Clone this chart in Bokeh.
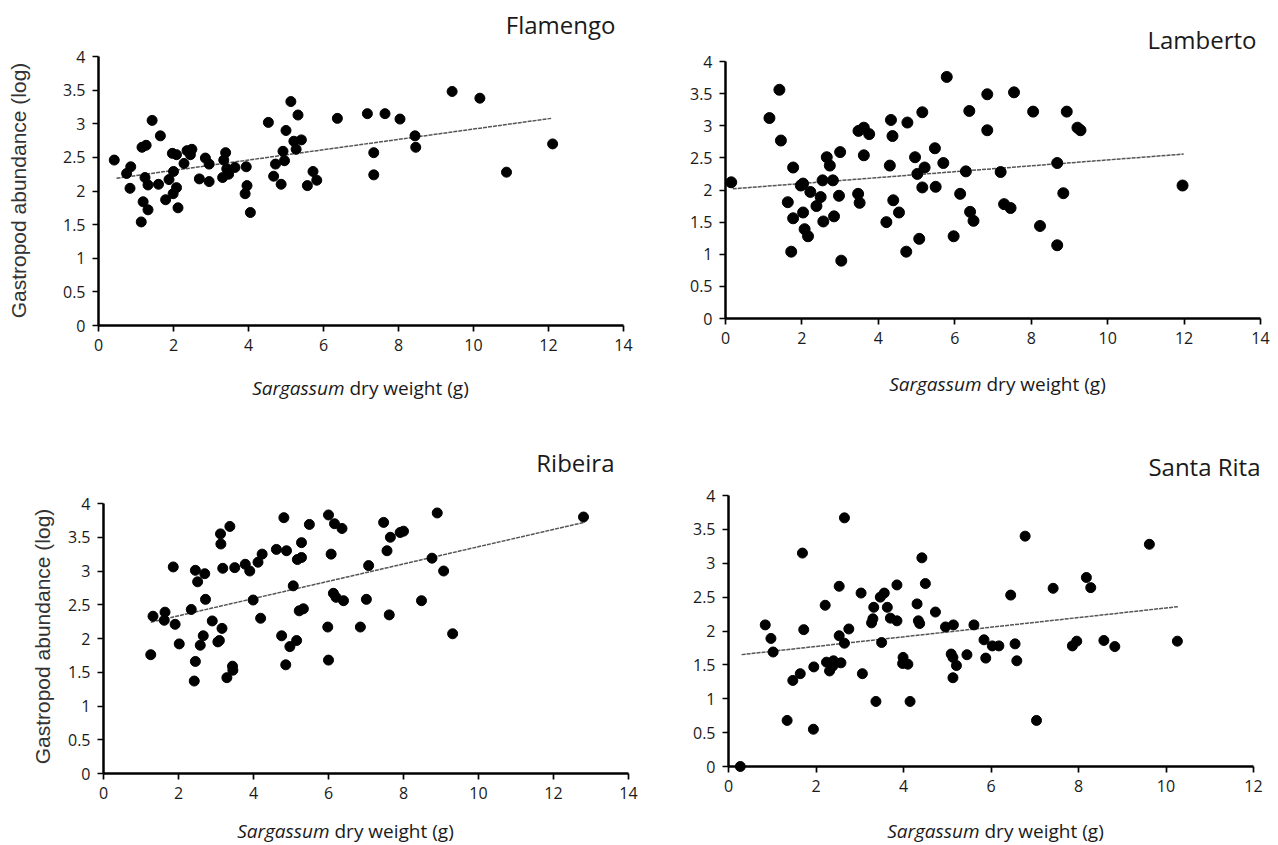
import math
from bokeh.plotting import figure
from bokeh.layouts import column, row
from bokeh.models import FixedTicker, NumeralTickFormatter, Range1d
from bokeh.core.properties import value
from bokeh.embed import file_html
from bokeh.resources import INLINE

# ---------------- data ----------------
flamengo_x = [0.42, 0.86, 0.75, 0.84, 1.16, 1.27, 1.43, 1.24, 1.32, 1.19, 1.32, 1.14, 1.60, 1.65, 1.79,
              1.88, 1.97, 2.08, 2.00, 1.99, 2.08, 2.12, 2.28, 2.36, 2.49, 2.45, 2.69, 2.85, 2.95, 2.95,
              3.31, 3.34, 3.39, 3.42, 3.47, 3.64, 3.91, 3.94, 3.96, 4.05, 4.53, 4.67, 4.72, 4.87, 4.92,
              4.96, 5.00, 5.13, 5.21, 5.27, 5.32, 5.41, 5.57, 5.72, 5.82, 6.37, 7.17, 7.34, 7.34, 7.64,
              8.04, 8.44, 8.46, 9.43, 10.17, 10.88, 12.11]
flamengo_y = [2.46, 2.36, 2.26, 2.04, 2.65, 2.68, 3.05, 2.20, 2.09, 1.84, 1.72, 1.54, 2.10, 2.82, 1.87,
              2.17, 2.56, 2.54, 2.29, 1.96, 2.05, 1.75, 2.41, 2.60, 2.62, 2.54, 2.18, 2.49, 2.40, 2.14,
              2.20, 2.46, 2.57, 2.33, 2.25, 2.35, 1.96, 2.36, 2.08, 1.68, 3.02, 2.22, 2.40, 2.10, 2.59,
              2.45, 2.90, 3.33, 2.74, 2.62, 3.13, 2.76, 2.08, 2.29, 2.16, 3.08, 3.15, 2.57, 2.24, 3.15,
              3.07, 2.82, 2.65, 3.48, 3.38, 2.28, 2.70]

lamberto_x = [0.15, 1.15, 1.41, 1.45, 1.77, 1.63, 1.77, 1.72, 1.97, 2.03, 2.03, 2.07, 2.16, 2.22, 2.38,
              2.49, 2.56, 2.54, 2.81, 2.65, 2.73, 2.84, 2.97, 3.00, 3.03, 3.47, 3.51, 3.48, 3.62, 3.76,
              3.62, 4.21, 4.30, 4.33, 4.37, 4.39, 4.54, 4.73, 4.76, 4.96, 5.02, 5.21, 5.07, 5.15, 5.15,
              5.48, 5.50, 5.70, 5.79, 5.97, 6.14, 6.29, 6.38, 6.40, 6.49, 6.85, 6.85, 7.55, 8.05, 8.93,
              9.21, 9.29, 7.20, 8.68, 7.29, 7.46, 8.84, 8.23, 8.68, 11.96]
lamberto_y = [2.12, 3.12, 3.56, 2.77, 2.35, 1.81, 1.56, 1.04, 2.07, 2.10, 1.65, 1.39, 1.28, 1.97, 1.75,
              1.89, 1.51, 2.15, 2.15, 2.51, 2.38, 1.59, 1.91, 2.59, 0.90, 1.94, 1.80, 2.92, 2.97, 2.87,
              2.54, 1.50, 2.38, 3.09, 2.84, 1.84, 1.65, 1.04, 3.05, 2.51, 2.25, 2.35, 1.24, 2.04, 3.21,
              2.65, 2.05, 2.42, 3.76, 1.28, 1.94, 2.29, 3.23, 1.66, 1.52, 3.49, 2.93, 3.52, 3.22, 3.22,
              2.97, 2.93, 2.28, 2.42, 1.78, 1.72, 1.95, 1.44, 1.14, 2.07]

ribeira_x = [1.26, 1.32, 1.64, 1.62, 1.91, 1.86, 2.02, 2.34, 2.45, 2.42, 2.45, 2.70, 2.51, 2.58, 2.66,
             2.72, 2.90, 3.05, 3.09, 3.16, 3.12, 3.13, 3.37, 3.18, 3.29, 3.44, 3.45, 3.50, 3.78, 3.90,
             3.99, 4.12, 4.23, 4.19, 4.61, 4.75, 4.81, 4.88, 4.86, 4.97, 5.15, 5.06, 5.17, 5.28, 5.28,
             5.22, 5.33, 5.49, 5.98, 6.00, 6.00, 6.07, 6.16, 6.36, 6.13, 6.20, 6.40, 6.85, 7.01, 7.07,
             7.47, 7.65, 7.56, 7.91, 8.00, 7.62, 8.48, 8.76, 8.90, 9.07, 9.31, 12.80]
ribeira_y = [1.76, 2.33, 2.39, 2.27, 2.21, 3.06, 1.92, 2.43, 1.66, 1.37, 3.01, 2.96, 2.84, 1.90, 2.04,
             2.58, 2.26, 1.95, 1.97, 2.15, 3.55, 3.40, 3.66, 3.04, 1.42, 1.59, 1.53, 3.05, 3.10, 3.00,
             2.57, 3.13, 3.25, 2.30, 3.32, 2.04, 3.79, 3.30, 1.61, 1.88, 1.97, 2.78, 3.17, 3.20, 3.42,
             2.41, 2.44, 3.69, 2.17, 1.68, 3.83, 3.25, 3.70, 3.63, 2.67, 2.61, 2.56, 2.17, 2.58, 3.08,
             3.72, 3.50, 3.30, 3.57, 3.59, 2.35, 2.56, 3.19, 3.86, 3.00, 2.07, 3.80]

santarita_x = [0.27, 0.84, 0.97, 1.02, 1.34, 1.47, 1.64, 1.69, 1.72, 1.94, 1.95, 2.21, 2.24, 2.40, 2.57,
               2.31, 2.38, 2.53, 2.53, 2.65, 2.65, 2.75, 3.03, 3.06, 3.27, 3.30, 3.32, 3.37, 3.47, 3.56,
               3.50, 3.63, 3.70, 3.85, 3.85, 3.99, 3.98, 4.10, 4.15, 4.31, 4.37, 4.34, 4.42, 4.50, 4.73,
               4.96, 5.14, 5.09, 5.13, 5.21, 5.13, 5.45, 5.61, 5.84, 6.03, 6.18, 5.88, 6.45, 6.55, 6.59,
               6.78, 7.04, 7.42, 7.86, 7.96, 8.18, 8.28, 8.58, 8.83, 9.62, 10.26]
santarita_y = [0.00, 2.09, 1.89, 1.69, 0.68, 1.27, 1.37, 3.15, 2.02, 0.55, 1.47, 2.38, 1.54, 1.56, 1.53,
               1.41, 1.48, 2.66, 1.93, 3.67, 1.82, 2.03, 2.56, 1.37, 2.12, 2.18, 2.35, 0.96, 2.50, 2.56,
               1.83, 2.35, 2.19, 2.15, 2.68, 1.61, 1.52, 1.51, 0.96, 2.40, 2.11, 2.15, 3.08, 2.70, 2.28,
               2.06, 2.09, 1.66, 1.61, 1.49, 1.31, 1.65, 2.09, 1.87, 1.78, 1.78, 1.60, 2.53, 1.81, 1.56,
               3.40, 0.68, 2.63, 1.78, 1.85, 2.79, 2.64, 1.86, 1.77, 3.28, 1.85]

# linear trend lines: intercept, slope, x extent
trend_intercept = {"Flamengo": 2.153, "Lamberto": 2.01, "Ribeira": 2.08, "Santa Rita": 1.63}
trend_slope = {"Flamengo": 0.0768, "Lamberto": 0.0458, "Ribeira": 0.128, "Santa Rita": 0.071}
trend_xspan = {"Flamengo": (0.48, 12.07), "Lamberto": (0.19, 11.99),
               "Ribeira": (1.26, 12.84), "Santa Rita": (0.30, 10.27)}

y_ticks = [0, 0.5, 1, 1.5, 2, 2.5, 3, 3.5, 4]
y_max = 4
x_label_italic = "Sargassum"
x_label_rest = "dry weight (g)"
y_label = "Gastropod abundance (log)"

FONT = "Open Sans"
TXT = "#1a1a1a"


def panel(name, xs, ys, xmax, origin, size, frame, title_pos, xlab_pos, ylab_pos, dot):
    ox, oy = origin
    w, h = size
    fl, fr, ft, fb = frame           # page pixels of the data area (x 0..xmax, y 0..4)
    ppx = (fr - fl) / xmax
    ppy = (fb - ft) / y_max

    def d(px, py):                   # page pixel -> data coordinate
        return (px - fl) / ppx, (fb - py) / ppy

    x0r, y1r = d(ox, oy)
    x1r, y0r = d(ox + w, oy + h)
    p = figure(width=w, height=h, output_backend="svg", toolbar_location=None,
               title=None, min_border=0,
               x_range=Range1d(x0r, x1r), y_range=Range1d(y0r, y1r))
    p.outline_line_color = None
    p.xgrid.visible = False
    p.ygrid.visible = False

    for ax in (p.xaxis[0], p.yaxis[0]):
        ax.fixed_location = 0
        ax.axis_line_color = "black"
        ax.axis_line_width = 2.5
        ax.major_tick_line_color = "black"
        ax.major_tick_line_width = 1.7
        ax.major_tick_out = 6
        ax.major_tick_in = 0
        ax.minor_tick_out = 0
        ax.minor_tick_in = 0
        ax.major_label_text_font = FONT
        ax.major_label_text_font_size = "16px"
        ax.major_label_text_color = TXT
    p.xaxis.bounds = (0, xmax)
    p.yaxis.bounds = (0, y_max)
    p.xaxis.ticker = FixedTicker(ticks=list(range(0, xmax + 1, 2)))
    p.yaxis.ticker = FixedTicker(ticks=y_ticks)
    p.yaxis.formatter = NumeralTickFormatter(format="0.[0]")
    p.xaxis.major_label_standoff = 7
    p.yaxis.major_label_standoff = 7

    # trend line (dotted)
    t0, t1 = trend_xspan[name]
    a, b = trend_intercept[name], trend_slope[name]
    p.line([t0, t1], [a + b * t0, a + b * t1], line_color="#555555",
           line_width=1.5, line_dash="4 1")
    p.scatter(xs, ys, size=dot, marker="circle", fill_color="black", line_color="black")

    tx, ty = d(*title_pos)
    p.text(x=[tx], y=[ty], text=[name], text_align="right", text_baseline="middle",
           text_font=value(FONT), text_font_size="24px", text_color=TXT)
    sx, sy = xlab_pos
    lx, ly = d(sx - 2, sy)
    p.text(x=[lx], y=[ly], text=[x_label_italic], text_align="right", text_baseline="middle",
           text_font=value(FONT), text_font_style="italic", text_font_size="19px",
           text_color=TXT)
    lx, ly = d(sx + 3, sy)
    p.text(x=[lx], y=[ly], text=[x_label_rest], text_align="left", text_baseline="middle",
           text_font=value(FONT), text_font_size="19px", text_color=TXT)
    if ylab_pos is not None:
        yx, yy = d(*ylab_pos)
        p.text(x=[yx], y=[yy], text=[y_label], angle=math.pi / 2, text_align="center",
               text_baseline="middle", text_font=value("Liberation Sans"),
               text_font_size="21px", text_color="#333333")
    return p


p1 = panel("Flamengo", flamengo_x, flamengo_y, 14, (0, 0), (638, 421),
           (98, 623, 56, 325), (615, 24), (346, 387), (18, 190), 10)
p2 = panel("Lamberto", lamberto_x, lamberto_y, 14, (638, 0), (638, 421),
           (725, 1260, 61, 318), (1256, 39), (983, 383), None, 11)
p3 = panel("Ribeira", ribeira_x, ribeira_y, 14, (0, 421), (638, 422),
           (103, 628, 503, 773), (614, 462), (331, 830), (42, 636), 10)
p4 = panel("Santa Rita", santarita_x, santarita_y, 12, (638, 421), (638, 422),
           (728, 1253, 495, 766), (1260, 466), (981, 830), None, 10)

layout = column(row(p1, p2, spacing=0), row(p3, p4, spacing=0), spacing=0)

with open("out.html", "w") as f:
    f.write(file_html(layout, INLINE))
